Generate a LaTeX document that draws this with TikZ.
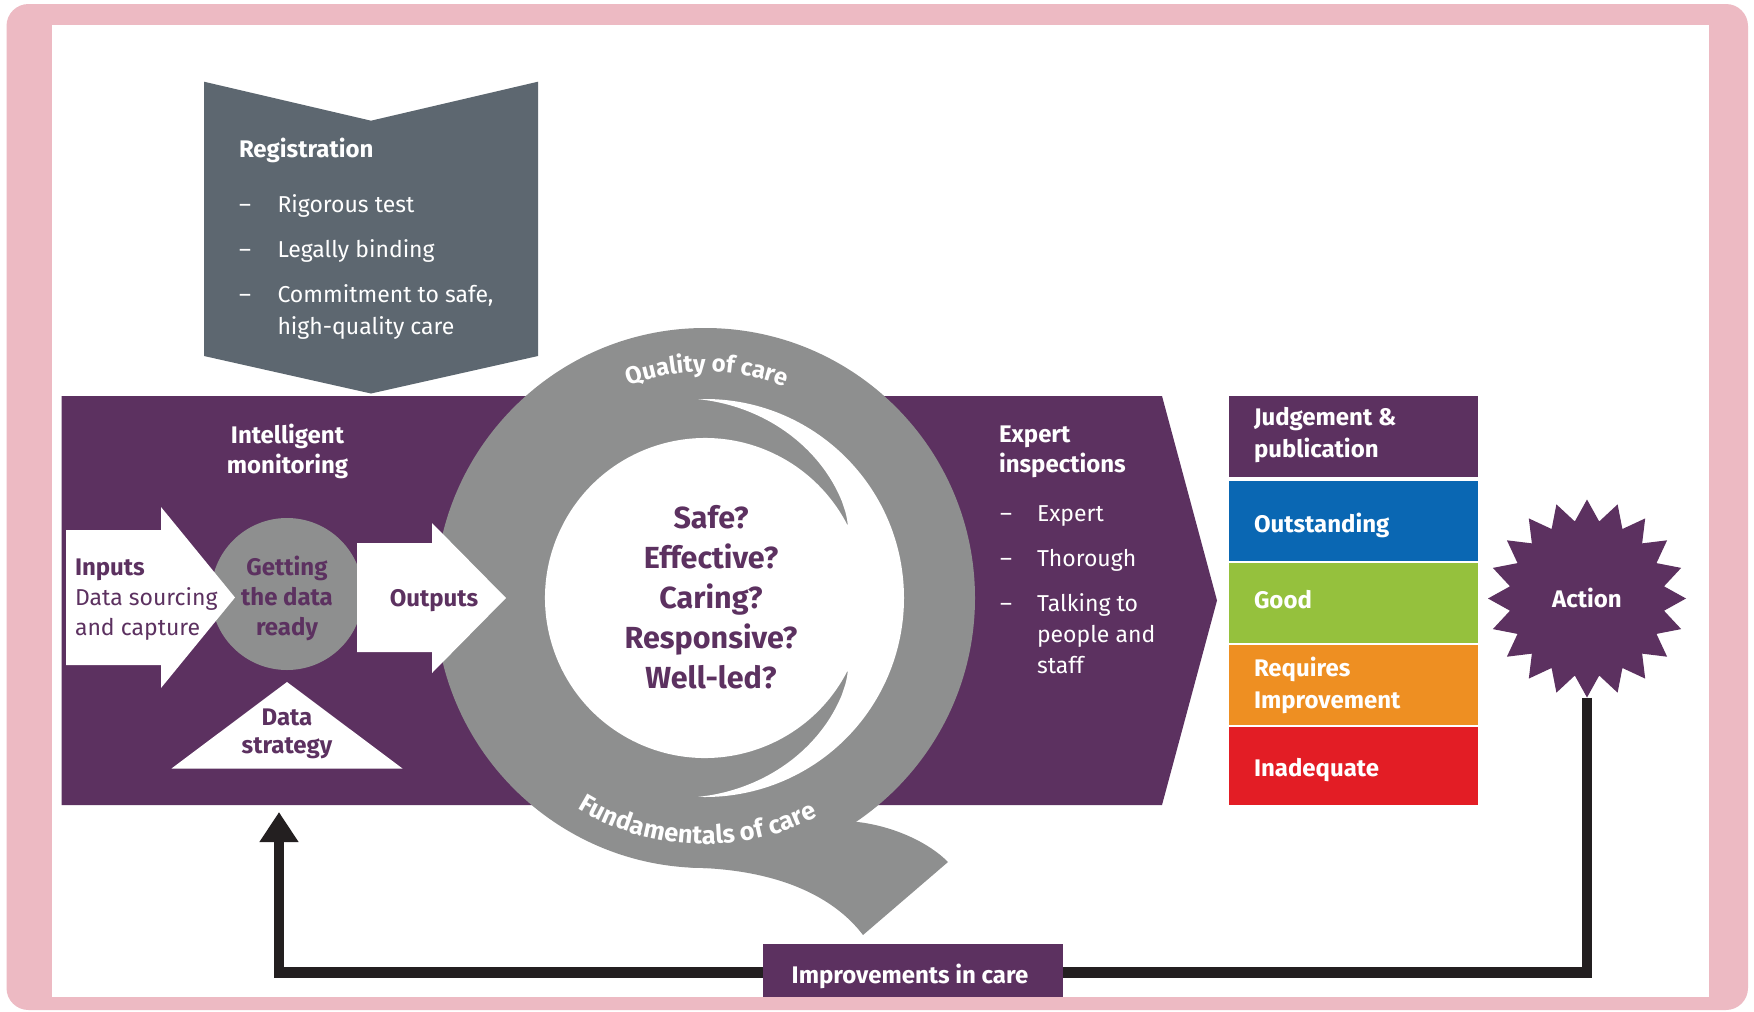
\documentclass[tikz,border=0pt]{standalone}
\usepackage{fontspec}
\setmainfont{Fira Sans}
\usetikzlibrary{shapes.geometric,arrows.meta,decorations.text,calc}
\definecolor{frame}{HTML}{EDBAC3}
\definecolor{plum}{HTML}{5C3160}
\definecolor{slate}{HTML}{5D6770}
\definecolor{qgrey}{HTML}{8E8F8F}
\definecolor{rblue}{HTML}{0A67B3}
\definecolor{rgreen}{HTML}{95C13D}
\definecolor{rorange}{HTML}{EE8F22}
\definecolor{rred}{HTML}{E31D25}
\definecolor{loopblack}{HTML}{231F20}
\newcommand\ftHead{\bfseries\fontsize{24}{28}\selectfont}
\newcommand\ftBody{\fontsize{23}{28}\selectfont}
\newcommand\ftQues{\bfseries\fontsize{30.5}{36}\selectfont}
\newcommand\ftRing{\bfseries\fontsize{24}{28}\selectfont}
\newcommand\ftRingB{\bfseries\fontsize{25.5}{30}\selectfont}
\pgfdeclarelayer{front}
\pgfsetlayers{main,front}

\begin{document}
\begin{tikzpicture}[x=1pt,y=1pt,
  lbl/.style={inner sep=0pt, outer sep=0pt},
  head/.style={lbl, font=\ftHead, text=white},
  body/.style={lbl, font=\ftBody, text=white},
  headp/.style={lbl, font=\ftHead, text=plum},
  bodyp/.style={lbl, font=\ftBody, text=plum},
  ques/.style={lbl, font=\ftQues, text=plum, anchor=base},
  loopline/.style={draw=loopblack, line width=10.5pt, line join=miter,
    -{Triangle[length=30pt,width=37pt]}},
  ringtext/.style={decorate, decoration={text along path, text align=center,
    text={|\ftRing\color{white}|#1}}},
  ringtextb/.style={decorate, decoration={text along path, text align=center,
    text={|\ftRingB\color{white}|#1}}}
]
\useasboundingbox (0,0) rectangle (1754,-1012);
\fill[white] (0,0) rectangle (1754,-1012);
% pink frame
\fill[frame, rounded corners=22pt] (6.5,-4) rectangle (1748,-1010);
\fill[white] (51.7,-25) rectangle (1708.5,-996.5);

% registration chevron
\fill[slate] (204,-81.7) -- (371,-120.7) -- (538,-81.7) -- (538,-356)
  -- (371,-393.5) -- (204,-356) -- cycle;
\node[head, anchor=base west] (reg) at (239,-157) {Registration};
\node[body, anchor=base west] (regd1) at (239,-212) {–};
\node[body, anchor=base west] (reg1) at (277.5,-212) {Rigorous test};
\node[body, anchor=base west] (regd2) at (239,-257) {–};
\node[body, anchor=base west] (reg2) at (277.5,-257) {Legally binding};
\node[body, anchor=base west] (regd3) at (239,-302) {–};
\node[body, anchor=base west] (reg3) at (277.5,-302) {Commitment to safe,};
\node[body, anchor=base west] (reg3b) at (277.5,-334) {high-quality care};

% purple band
\fill[plum] (61.5,-396) -- (1162,-396) -- (1217,-600.5) -- (1162,-805)
  -- (61.5,-805) -- cycle;

% the Q ring
\begin{scope}[shift={(705,-598)}]
  \fill[qgrey] (0,0) circle[radius=270];
  \fill[qgrey] (151,-223.8) .. controls (182,-227) and (220,-241) .. (243,-264)
    -- (158,-337) .. controls (130,-300) and (75,-271) .. (-15,-269.6) -- cycle;
  \fill[white] (92:199) arc[start angle=92, end angle=-92, radius=199]
    -- plot[domain=-92:-27.5, samples=50] (\x:{160+39*(((-27-\x)/65)^0.8)})
    -- (-27:160) arc[start angle=-27, end angle=-333, radius=160]
    -- plot[domain=27.5:92, samples=50] (\x:{160+39*(((\x-27)/65)^0.8)})
    -- cycle;
  \path[ringtext={Quality of care}] (113:226) arc[start angle=113, end angle=66, radius=226];
  \path[ringtextb={Fundamentals of care}] (-130:246) arc[start angle=-130, end angle=-54, radius=246];
\end{scope}

% intelligent monitoring
\node[head, anchor=base] (im1) at (287.5,-443) {Intelligent};
\node[head, anchor=base] (im2) at (287.5,-473) {monitoring};
\node[circle, fill=qgrey, minimum size=152pt, inner sep=0pt] (prep) at (287,-594) {};
\fill[white] (66,-530) -- (161,-530) -- (161,-507) -- (235,-597.5) -- (161,-688)
  -- (161,-665) -- (66,-665) -- cycle;
\fill[white] (357,-543) -- (432,-543) -- (432,-523) -- (506,-598) -- (432,-673)
  -- (432,-652) -- (357,-652) -- cycle;
\fill[white] (287,-682) -- (402.5,-768.5) -- (171.5,-768.5) -- cycle;
\node[headp, anchor=base west] (in1) at (75,-575) {Inputs};
\node[bodyp, anchor=base west] (in2) at (75,-605.5) {Data sourcing};
\node[bodyp, anchor=base west] (in3) at (75,-635) {and capture};
\node[headp, anchor=base] (gd1) at (287,-575) {Getting};
\node[headp, anchor=base] (gd2) at (287,-605) {the data};
\node[headp, anchor=base] (gd3) at (287,-635) {ready};
\node[headp, anchor=base] (outp) at (434,-606) {Outputs};
\node[headp, anchor=base] (ds1) at (287,-725) {Data};
\node[headp, anchor=base] (ds2) at (287,-753) {strategy};

% key questions
\node[ques] (q1) at (711,-528) {Safe?};
\node[ques] (q2) at (711,-568) {Effective?};
\node[ques] (q3) at (711,-608) {Caring?};
\node[ques] (q4) at (711,-648) {Responsive?};
\node[ques] (q5) at (711,-688) {Well-led?};

% expert inspections
\node[head, anchor=base west] (ex1) at (999,-442) {Expert};
\node[head, anchor=base west] (ex2) at (999,-472) {inspections};
\node[body, anchor=base west] (exd1) at (1000,-521) {–};
\node[body, anchor=base west] (ex3) at (1037,-521) {Expert};
\node[body, anchor=base west] (exd2) at (1000,-566) {–};
\node[body, anchor=base west] (ex4) at (1037,-566) {Thorough};
\node[body, anchor=base west] (exd3) at (1000,-611) {–};
\node[body, anchor=base west] (ex5) at (1037,-611) {Talking to};
\node[body, anchor=base west] (ex6) at (1037,-642) {people and};
\node[body, anchor=base west] (ex7) at (1037,-673) {staff};

% ratings
\fill[plum] (1229,-396) rectangle (1478,-476.5);
\fill[rblue] (1229,-480.5) rectangle (1478,-561);
\fill[rgreen] (1229,-563) rectangle (1478,-643);
\fill[rorange] (1229,-645) rectangle (1478,-724.5);
\fill[rred] (1229,-726.5) rectangle (1478,-805);
\node[head, anchor=base west] (jp1) at (1254,-425) {Judgement \&};
\node[head, anchor=base west] (jp2) at (1254,-457) {publication};
\node[head, anchor=base west] (rt1) at (1254,-532) {Outstanding};
\node[head, anchor=base west] (rt2) at (1254,-608) {Good};
\node[head, anchor=base west] (rt3) at (1254,-676) {Requires};
\node[head, anchor=base west] (rt3b) at (1254,-708) {Improvement};
\node[head, anchor=base west] (rt4) at (1254,-776) {Inadequate};

% action and feedback loop
\begin{pgfonlayer}{front}
\node[star, star points=20, star point ratio=1.27, minimum size=198pt,
  inner sep=0pt, fill=plum] (action) at (1587,-598.5) {};
\node[head, anchor=base] (actlbl) at (1587,-607) {Action};
\end{pgfonlayer}
\coordinate (loopL) at (279,-972.5);
\coordinate (loopTip) at (279,-812);
\draw[loopline] (action.south) |- (loopL) -- (loopTip);
\node[fill=plum, minimum width=300pt, minimum height=52.5pt, inner sep=0pt,
  anchor=north west] (impbox) at (763,-944) {};
\node[head, anchor=base] (implbl) at (910,-983) {Improvements in care};
\end{tikzpicture}
\end{document}
